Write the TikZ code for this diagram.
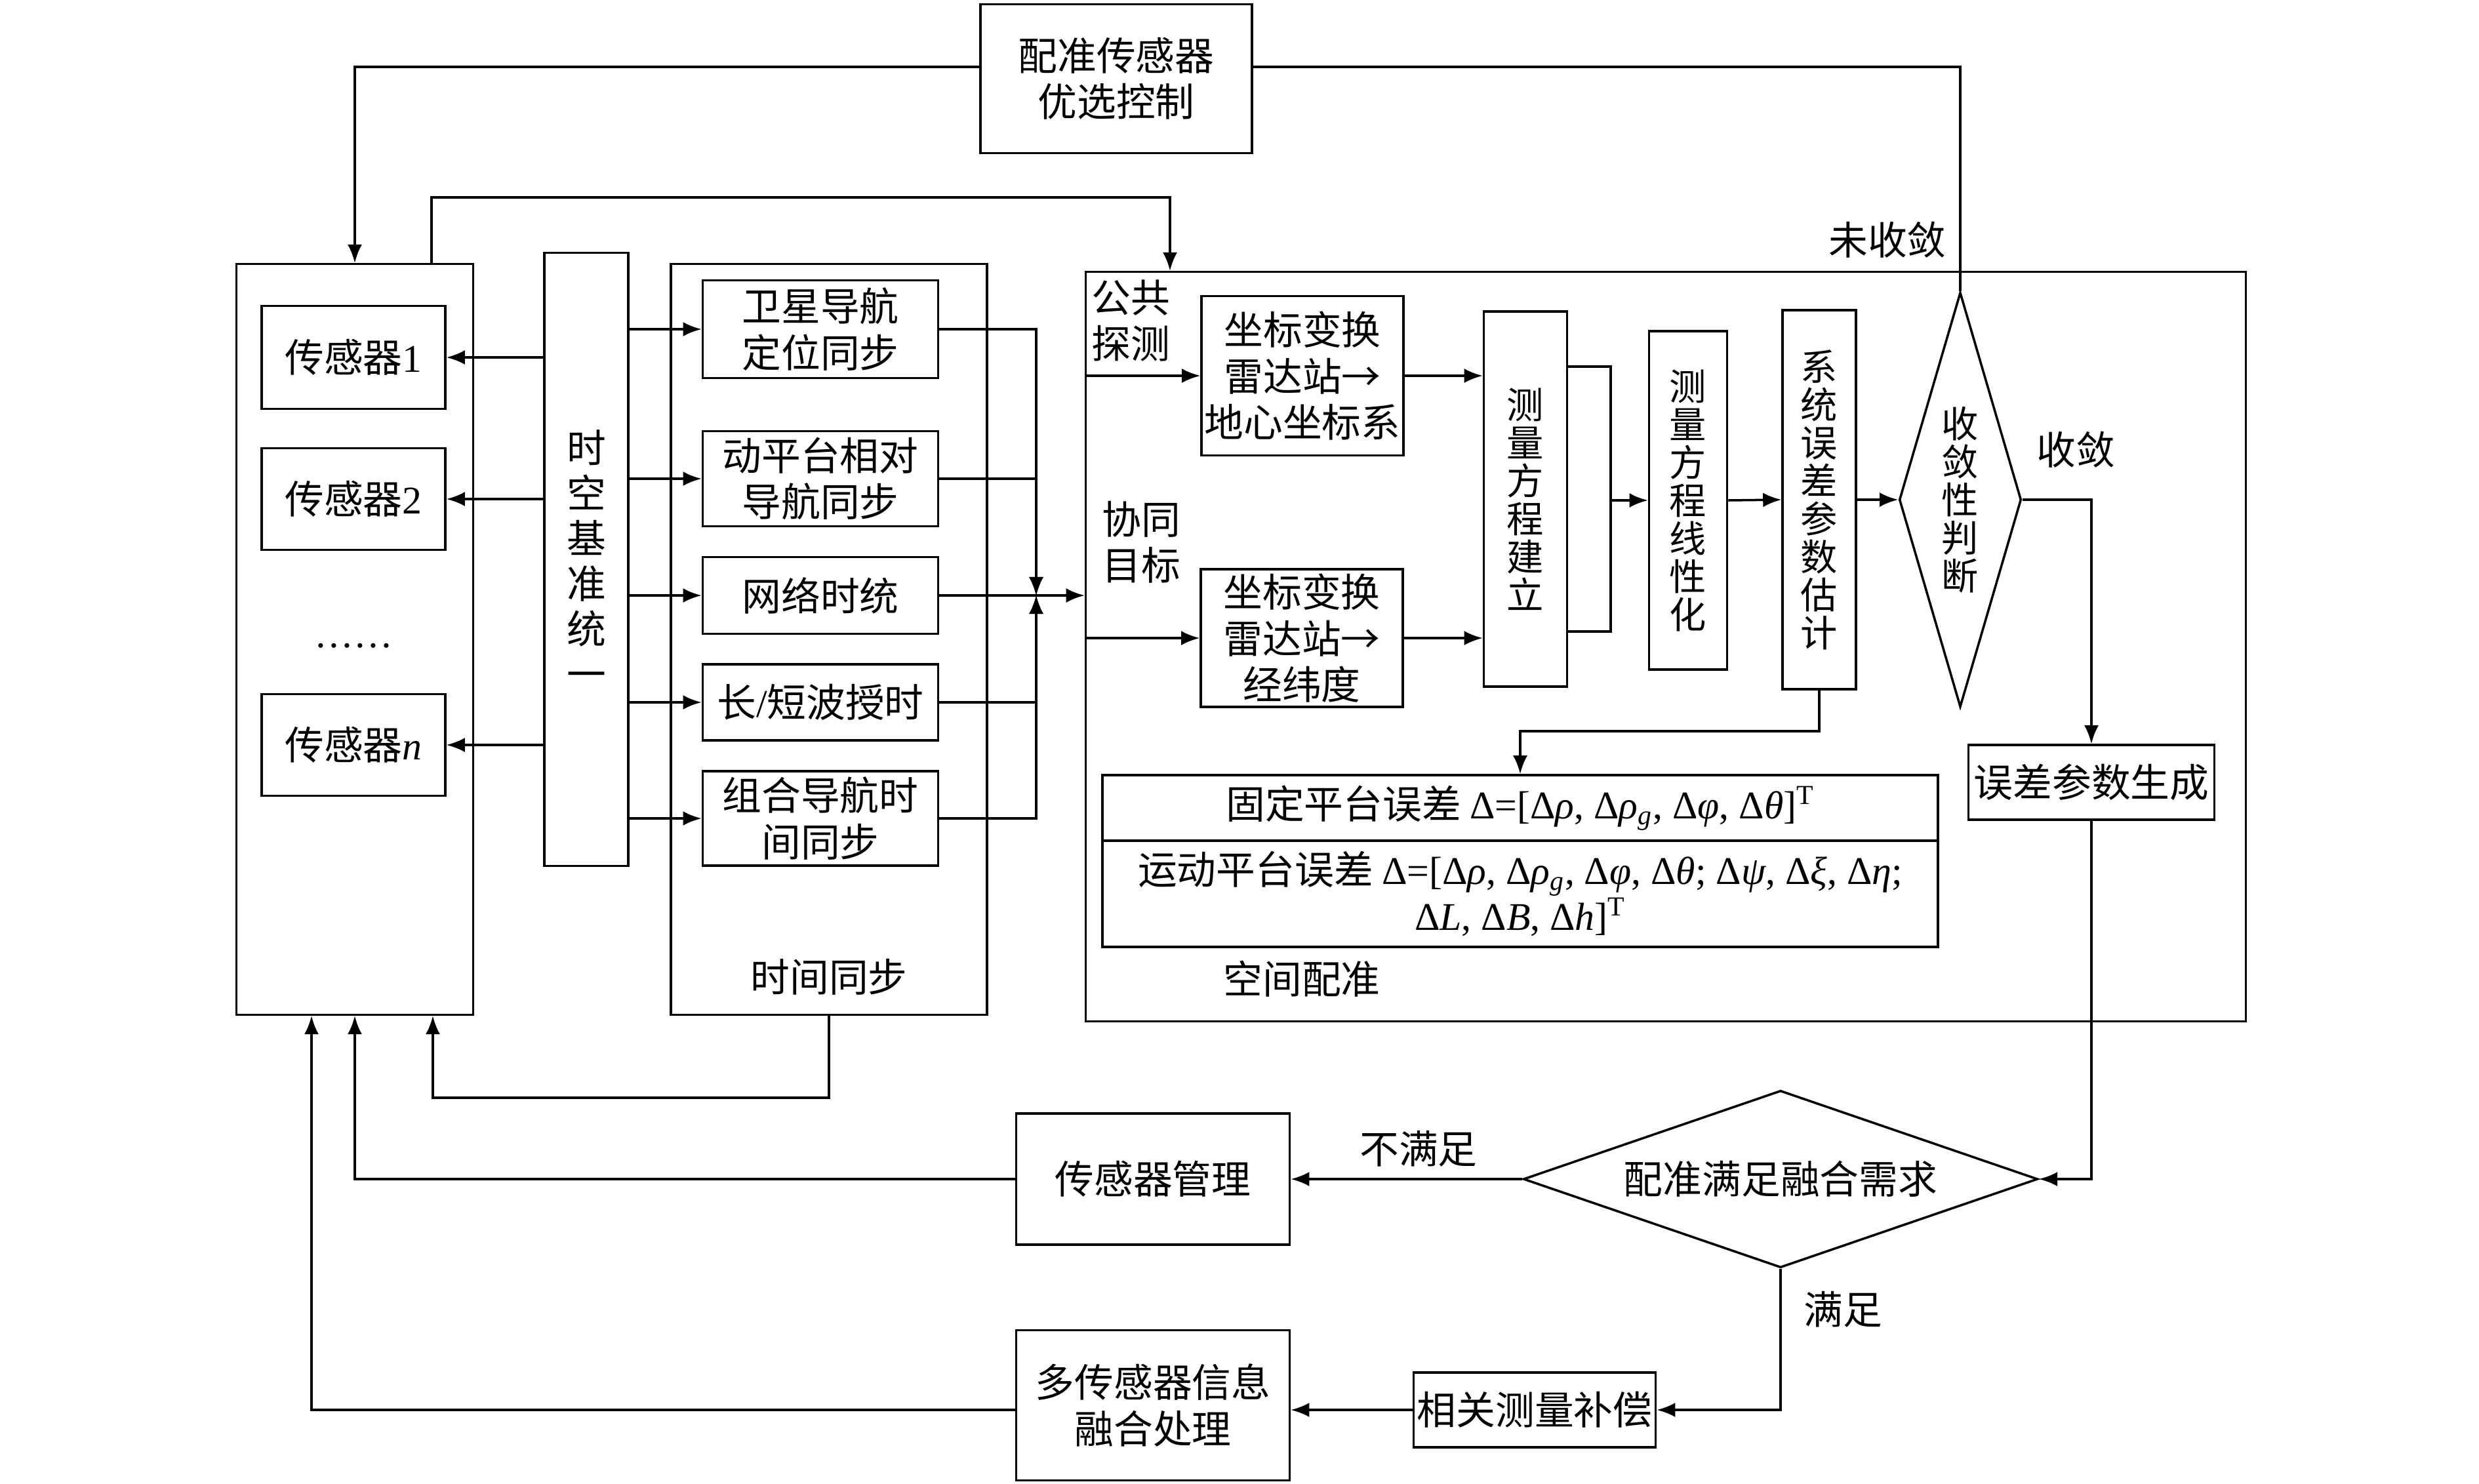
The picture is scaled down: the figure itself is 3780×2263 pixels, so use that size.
\documentclass[tikz,border=0pt]{standalone}
\usepackage{fontspec}
\setmainfont{Liberation Serif}
\newfontfamily\cjk{Noto Sans CJK SC}
\usetikzlibrary{arrows.meta,shapes.geometric}

\begin{document}
\begin{tikzpicture}[x=0.01cm,y=-0.01cm,line width=1pt,>={Latex[length=2.8mm,width=2.2mm]},
  font=\cjk\fontsize{17}{20}\selectfont,
  box/.style={draw,inner sep=0pt,align=center},
  stack/.style={box,font=\cjk\fontsize{16}{16.5}\selectfont},
  decide/.style={draw,diamond,inner sep=0pt,align=center}]
  \useasboundingbox (0,0) rectangle (3780,2263);

  % sensors
  \node[box,minimum width=3.61cm,minimum height=11.44cm] (sens) at (541,975) {};
  \node[box,minimum width=2.8cm,minimum height=1.57cm] (s1) at (539,545) {传感器{\rmfamily 1}};
  \node[box,minimum width=2.8cm,minimum height=1.55cm] (s2) at (539,761) {传感器{\rmfamily 2}};
  \node (dots) at (539,985) {{\rmfamily ……}};
  \node[box,minimum width=2.8cm,minimum height=1.55cm] (sn) at (539,1136) {传感器{\rmfamily\itshape n}};

  % time base and time sync
  \node[box,minimum width=1.28cm,minimum height=9.34cm,font=\cjk\fontsize{17}{19.6}\selectfont] (st) at (894,853) {时\\空\\基\\准\\统\\一};
  \node[box,minimum width=4.82cm,minimum height=11.44cm] (ts) at (1264,975) {};
  \node[box,minimum width=3.59cm,minimum height=1.49cm] (t1) at (1251,502) {卫星导航\\定位同步};
  \node[box,minimum width=3.59cm,minimum height=1.45cm] (t2) at (1251,730) {动平台相对\\导航同步};
  \node[box,minimum width=3.59cm,minimum height=1.17cm] (t3) at (1251,908) {网络时统};
  \node[box,minimum width=3.59cm,minimum height=1.16cm] (t4) at (1251,1071) {长{\rmfamily /}短波授时};
  \node[box,minimum width=3.59cm,minimum height=1.44cm] (t5) at (1251,1248) {组合导航时\\间同步};
  \node (tslbl) at (1264,1490) {时间同步};

  \foreach \s in {s1,s2,sn} \draw[->] (st.west |- \s) -- (\s.east);
  \foreach \t in {t1,t2,t3,t4,t5} \draw[->] (st.east |- \t) -- (\t.west);

  \coordinate (jn) at (1580,908);
  \foreach \t in {t1,t2,t4,t5} \draw[->] (\t.east) -| (jn);
  \draw (t3.east) -- (jn);

  % spatial registration
  \node[box,minimum width=17.68cm,minimum height=11.42cm] (reg) at (2540,986) {};
  \draw[->] (jn) -- (jn -| reg.west);
  \node[align=center] (ggtc) at (1724,489) {公共\\探测};
  \node[align=center] (xtmb) at (1740,827) {协同\\目标};
  \node[box,minimum width=3.08cm,minimum height=2.43cm] (c1) at (1986,573) {坐标变换\\雷达站→\\地心坐标系};
  \node[box,minimum width=3.08cm,minimum height=2.1cm] (c2) at (1985,973) {坐标变换\\雷达站→\\经纬度};
  \draw[->] (reg.west |- c1) -- (c1.west);
  \draw[->] (reg.west |- c2) -- (c2.west);

  \node[stack,minimum width=1.27cm,minimum height=5.72cm] (e1) at (2326,761) {测\\量\\方\\程\\建\\立};
  \node[stack,minimum width=1.19cm,minimum height=5.16cm] (e2) at (2574,763) {测\\量\\方\\程\\线\\性\\化};
  \node[stack,minimum width=1.12cm,minimum height=5.78cm] (e3) at (2774,762) {系\\统\\误\\差\\参\\数\\估\\计};
  \node[decide,minimum width=1.86cm,minimum height=6.32cm,shape aspect=0.3,font=\cjk\fontsize{16}{16.5}\selectfont] (dj) at (2989,762) {收\\敛\\性\\判\\断};
  \node[box,minimum width=3.75cm,minimum height=1.14cm] (er) at (3189,1193) {误差参数生成};

  \draw[->] (c1.east) -- (c1.east -| e1.west);
  \draw[->] (c2.east) -- (c2.east -| e1.west);
  \coordinate (brt) at (2456,559);
  \coordinate (brb) at (2456,963);
  \draw (e1.east |- brt) -- (brt) -- (brb) -- (e1.east |- brb);
  \draw[->] (brt |- e2.west) -- (e2.west);
  \draw[->] (e2.east) -- (e3.west);
  \draw[->] (e3.east) -- (dj.west);
  \draw[->] (dj.east) -| (er.north);
  \node (sl) at (3165,686) {收敛};
  \node (wsl) at (2878,366) {未收敛};

  \node[box,minimum width=12.73cm,minimum height=1.0cm] (tb1) at (2318,1232)
    {固定平台误差 {\rmfamily Δ=[Δ\textit{ρ}, Δ\textit{ρ}\textsubscript{\textit{g}}, Δ\textit{φ}, Δ\textit{θ}]\textsuperscript{T}}};
  \node[box,minimum width=12.73cm,minimum height=1.62cm] (tb2) at (2318,1363)
    {运动平台误差 {\rmfamily Δ=[Δ\textit{ρ}, Δ\textit{ρ}\textsubscript{\textit{g}}, Δ\textit{φ}, Δ\textit{θ}; Δ\textit{ψ}, Δ\textit{ξ}, Δ\textit{η};}\\
     {\rmfamily Δ\textit{L}, Δ\textit{B}, Δ\textit{h}]\textsuperscript{T}}};
  \coordinate (ek) at (2774,1115);
  \draw[->] (e3.south) -- (ek) -| (tb1.north);
  \node (kjpz) at (1985,1493) {空间配准};

  % registration sensor control
  \node[box,minimum width=4.14cm,minimum height=2.27cm] (cfg) at (1702,120) {配准传感器\\优选控制};
  \coordinate (lp) at (541,102);
  \draw[->] (cfg.west |- lp) -- (lp) -- (lp |- sens.north);
  \coordinate (rp) at (2989,102);
  \draw (cfg.east |- rp) -- (rp) -- (dj.north);
  \coordinate (tp) at (658,301);
  \coordinate (tq) at (1784,301);
  \draw[->] (tp |- sens.north) -- (tp) -- (tq) -- (tq |- reg.north);

  % fusion check
  \node[box,minimum width=4.17cm,minimum height=2.0cm] (mg) at (1758,1798) {传感器管理};
  \node[box,minimum width=4.17cm,minimum height=2.29cm] (fu) at (1758,2143) {多传感器信息\\融合处理};
  \node[box,minimum width=3.69cm,minimum height=1.14cm] (cp) at (2340,2150) {相关测量补偿};
  \node[decide,minimum width=7.84cm,minimum height=2.7cm,shape aspect=2.9] (dm) at (2715,1798) {配准满足融合需求};
  \node (bmz) at (2163,1752) {不满足};
  \node (mz) at (2810,1997) {满足};

  \draw[->] (er.south) |- (dm.east);
  \draw[->] (dm.west) -- (mg.east);
  \draw[->] (dm.south) |- (cp.east);
  \draw[->] (cp.west) -- (cp.west -| fu.east);
  \coordinate (mp) at (541,1798);
  \draw[->] (mg.west) -- (mp) -- (mp |- sens.south);
  \coordinate (fp) at (475,2150);
  \draw[->] (fu.west |- fp) -- (fp) -- (fp |- sens.south);
  \coordinate (bp) at (660,1674);
  \draw[->] (ts.south) |- (bp) -- (bp |- sens.south);
\end{tikzpicture}
\end{document}
